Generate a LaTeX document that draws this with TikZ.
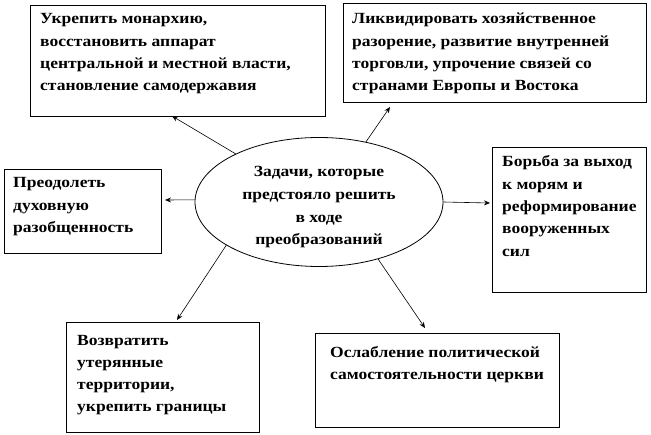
\documentclass[tikz,border=0pt]{standalone}
\usepackage{fontspec}
\setmainfont{Liberation Serif}[FakeStretch=1.13]
\usetikzlibrary{arrows.meta,shapes.geometric}
\newcommand{\leftlines}[2]{\parbox[t]{#1}{\raggedright #2}}
\newcommand{\midlines}[2]{\parbox[t]{#1}{\centering #2}}
\tikzset{
  box/.style={draw=black, line width=0.8bp, fill=white, inner sep=0pt, outer sep=0pt, anchor=north west},
  txt/.style={anchor=base west, inner sep=0pt, font=\fontsize{15.5bp}{22.3bp}\selectfont\bfseries},
  ctxt/.style={anchor=base, inner sep=0pt, font=\fontsize{15.5bp}{22.6bp}\selectfont\bfseries},
  arr/.style={draw=black, line width=0.6bp, -{Stealth[length=6bp,width=5bp]}},
}
\begin{document}
\begin{tikzpicture}[x=1bp,y=-1bp]
\useasboundingbox (0,0) rectangle (651,435);
% boxes
\node[box, minimum width=295bp, minimum height=111bp] (box1) at (30,5) {};
\node[box, minimum width=303bp, minimum height=99bp] (box2) at (343,3) {};
\node[box, minimum width=157bp, minimum height=84bp] (box3) at (4,169) {};
\node[box, minimum width=154bp, minimum height=145bp] (box4) at (492,147) {};
\node[box, minimum width=193bp, minimum height=110bp] (box5) at (66,322) {};
\node[box, minimum width=244bp, minimum height=94bp] (box6) at (315,333) {};
% texts
\node[txt] (t1) at ([shift={(10,19)}]box1.north west) {\leftlines{290bp}{Укрепить монархию,\\восстановить аппарат\\центральной и местной власти,\\становление самодержавия}};
\node[txt] (t2) at ([shift={(9,21)}]box2.north west) {\leftlines{300bp}{Ликвидировать хозяйственное\\разорение, развитие внутренней\\торговли, упрочение связей со\\странами Европы и Востока}};
\node[txt] (t3) at ([shift={(9,19)}]box3.north west) {\leftlines{150bp}{Преодолеть\\духовную\\разобщенность}};
\node[txt] (t4) at ([shift={(10,20)}]box4.north west) {\leftlines{150bp}{Борьба за выход\\к морям и\\реформирование\\вооруженных\\сил}};
\node[txt] (t5) at ([shift={(11,23)}]box5.north west) {\leftlines{190bp}{Возвратить\\утерянные\\территории,\\укрепить границы}};
\node[txt] (t6) at ([shift={(15,24)}]box6.north west) {\leftlines{240bp}{Ослабление политической\\самостоятельности церкви}};
% ellipse
\node[ellipse, draw=black, line width=0.8bp, minimum width=248bp, minimum height=129bp, inner sep=0pt] (ell) at (319,202) {};
\node[ctxt] (ct) at (319,177) {\midlines{240bp}{Задачи, которые\\предстояло решить\\в ходе\\преобразований}};
% arrow tips
\coordinate (p1) at ([xshift=-5.5bp]box1.south);
\coordinate (p2) at ([shift={(-104.5,5)}]box2.south);
\coordinate (p3) at ([shift={(4,-11)}]box3.east);
\coordinate (p4) at ([shift={(-2,-16.5)}]box4.west);
\coordinate (p5) at ([shift={(14.5,-2)}]box5.north);
\coordinate (p6) at ([shift={(-12,-5)}]box6.north);
% connectors
\draw[arr] (ell.150) -- (p1);
\draw[arr] (ell.52) -- (p2);
\draw[arr] (ell.179) -- (p3);
\draw[arr] (ell.-0.5) -- (p4);
\draw[arr] (ell.205) -- (p5);
\draw[arr] (ell.-44) -- (p6);
\end{tikzpicture}
\end{document}
